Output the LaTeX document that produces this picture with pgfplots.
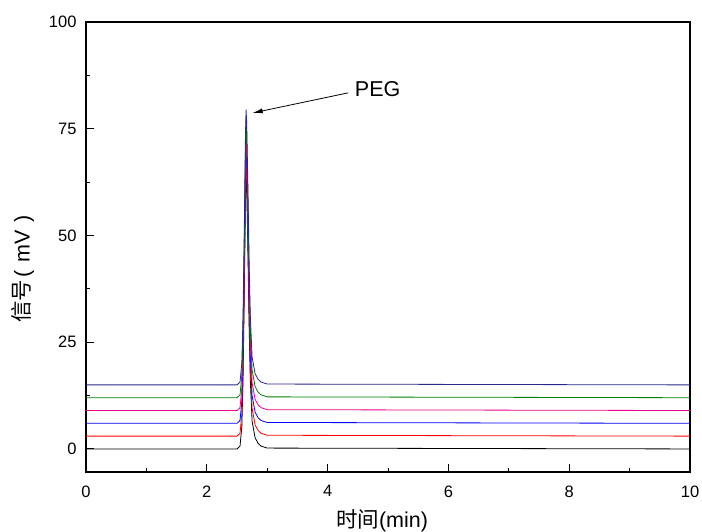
\documentclass[border=0pt]{standalone}
\usepackage{pgfplots}
\pgfplotsset{compat=1.18}
\usepackage{fontspec}
\setmainfont{Liberation Sans}
\newfontfamily\cjk{Noto Sans CJK SC}
\usetikzlibrary{arrows.meta}

\definecolor{navy}{RGB}{40,40,140}
\definecolor{dgreen}{RGB}{0,128,0}

\begin{document}
\begin{tikzpicture}
\useasboundingbox (0,0) rectangle (702pt,532pt);
\begin{axis}[
  at={(86pt,60pt)}, anchor=south west,
  scale only axis, width=604pt, height=450pt,
  xmin=0, xmax=10, ymin=-5.4, ymax=100,
  xtick={0,2,4,6,8,10},
  ytick={0,25,50,75,100},
  minor xtick={1,3,5,7,9},
  minor ytick={12.5,37.5,62.5,87.5},
  tick pos=left, tick align=inside,
  major tick length=8pt, minor tick length=4pt,
  tick style={line width=1pt, black},
  axis line style={line width=1.5pt},
  /pgf/number format/assume math mode=true,
  tick label style={font=\fontsize{16.5}{18}\selectfont},
  xticklabel style={yshift=-10pt},
  yticklabel style={xshift=-6pt},
  xlabel={{\cjk 时间}(min)},
  ylabel={{\cjk 信号}\hspace{2pt}(\hspace{8pt}mV\hspace{8pt})},
  label style={font=\fontsize{21.5}{23}\selectfont},
  xlabel style={yshift=-5pt, xshift=-6pt},
  ylabel style={yshift=8pt, xshift=-22pt},
  clip=false,
]
\addplot[black, line width=0.8pt] coordinates {(0,0) (2.5,0) (2.55,0.65) (2.58,5.2) (2.6,16.25) (2.62,35.75) (2.64,58.5) (2.65,65) (2.66,61.75) (2.68,46.8) (2.7,29.25) (2.72,16.25) (2.75,6.5) (2.8,2.6) (2.85,1.3) (2.9,0.65) (3.0,0.2) (10,0)};
\addplot[red, line width=0.8pt] coordinates {(0,3) (2.5,3) (2.55,3.65) (2.58,8.2) (2.6,19.25) (2.62,38.75) (2.64,61.5) (2.65,68) (2.66,64.75) (2.68,49.8) (2.7,32.25) (2.72,19.25) (2.75,9.5) (2.8,5.6) (2.85,4.3) (2.9,3.65) (3.0,3.2) (10,3)};
\addplot[blue, line width=0.8pt] coordinates {(0,6) (2.5,6) (2.55,6.65) (2.58,11.2) (2.6,22.25) (2.62,41.75) (2.64,64.5) (2.65,71) (2.66,67.75) (2.68,52.8) (2.7,35.25) (2.72,22.25) (2.75,12.5) (2.8,8.6) (2.85,7.3) (2.9,6.65) (3.0,6.2) (10,6)};
\addplot[magenta, line width=0.8pt] coordinates {(0,9) (2.5,9) (2.55,9.65) (2.58,14.2) (2.6,25.25) (2.62,44.75) (2.64,67.5) (2.65,74) (2.66,70.75) (2.68,55.8) (2.7,38.25) (2.72,25.25) (2.75,15.5) (2.8,11.6) (2.85,10.3) (2.9,9.65) (3.0,9.2) (10,9)};
\addplot[dgreen, line width=0.8pt] coordinates {(0,12) (2.5,12) (2.55,12.65) (2.58,17.2) (2.6,28.25) (2.62,47.75) (2.64,70.5) (2.65,77) (2.66,73.75) (2.68,58.8) (2.7,41.25) (2.72,28.25) (2.75,18.5) (2.8,14.6) (2.85,13.3) (2.9,12.65) (3.0,12.2) (10,12)};
\addplot[navy, line width=0.8pt] coordinates {(0,15) (2.5,15) (2.55,15.65) (2.58,20.2) (2.6,31.25) (2.62,50.75) (2.64,73.5) (2.65,79.5) (2.66,76.75) (2.68,61.8) (2.7,44.25) (2.72,31.25) (2.75,21.5) (2.8,17.6) (2.85,16.3) (2.9,15.65) (3.0,15.2) (10,15)};
\draw[-{Latex[length=10pt,width=5pt]}, line width=0.8pt] (axis cs:4.34,83.4) -- (axis cs:2.76,78.7);
\node[anchor=west, font=\fontsize{21.5}{23}\selectfont, inner sep=0pt] at (axis cs:4.45,84.2) {PEG};
\end{axis}
\end{tikzpicture}
\end{document}
